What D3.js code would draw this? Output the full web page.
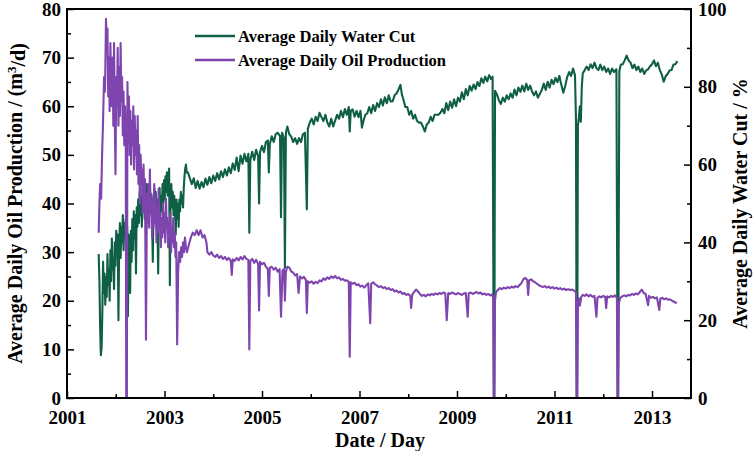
<!DOCTYPE html>
<html><head><meta charset="utf-8">
<script src="https://cdn.jsdelivr.net/npm/d3@7"></script>
<style>
html,body{margin:0;padding:0;background:#fff;}
svg text{font-family:"Liberation Serif","Times New Roman",serif;font-weight:bold;fill:#000;}
</style></head>
<body><svg id="c" width="754" height="451"></svg>
<script>
// ---- data (decimal year, value) ----
const yearTicks = [2001, 2003, 2005, 2007, 2009, 2011, 2013];
const oilTicks = [0, 10, 20, 30, 40, 50, 60, 70, 80];
const waterTicks = [0, 20, 40, 60, 80, 100];
const seriesNames = ["Average Daily Water Cut", "Average Daily Oil Production"];

// Average daily water cut, %  (right axis)
const waterEarly = [
[2001.650,37],[2001.665,30],[2001.680,18],[2001.695,11],[2001.710,13],[2001.725,22],[2001.740,35],[2001.755,27],[2001.770,32],[2001.785,24],
[2001.800,31],[2001.815,26],[2001.830,37],[2001.845,29],[2001.860,33],[2001.875,25],[2001.890,38],[2001.905,30],[2001.920,41],[2001.935,33],
[2001.950,36],[2001.965,28],[2001.980,40],[2001.995,34],[2002.010,43],[2002.025,37],[2002.040,42],[2002.055,20],[2002.070,39],[2002.085,45],
[2002.100,36],[2002.115,44],[2002.130,40],[2002.145,47],[2002.160,38],[2002.175,45],[2002.190,42],[2002.205,46],[2002.220,39],[2002.235,44],
[2002.250,21],[2002.265,42],[2002.280,36],[2002.295,27],[2002.310,43],[2002.325,35],[2002.340,46],[2002.355,38],[2002.370,48],[2002.385,41],
[2002.400,47],[2002.415,32],[2002.430,49],[2002.445,44],[2002.460,51],[2002.475,45],[2002.490,53],[2002.505,47],[2002.520,52],[2002.535,44],
[2002.550,54],[2002.565,48],[2002.580,53],[2002.595,46],[2002.610,52],[2002.625,45],[2002.640,55],[2002.655,49],[2002.670,53],[2002.685,47],
[2002.700,55],[2002.715,48],[2002.730,52],[2002.745,46],[2002.760,35],[2002.775,50],[2002.790,54],[2002.805,47],[2002.820,53],[2002.835,45],
[2002.850,51],[2002.870,32],[2002.885,49],[2002.900,54],[2002.915,47],[2002.930,52],[2002.945,48],[2002.960,55],[2002.975,50],[2002.990,56],
[2003.005,51],[2003.020,57],[2003.035,53],[2003.050,58],[2003.065,52],[2003.080,56],[2003.095,59],[2003.110,29],[2003.125,51],[2003.140,55],
[2003.155,49],[2003.170,53],[2003.185,47],[2003.200,52],[2003.215,48],[2003.230,42],[2003.245,51],[2003.260,46],[2003.275,50],[2003.290,44],
[2003.305,51],[2003.320,48],[2003.335,53],[2003.350,50],[2003.365,52],[2003.380,49],[2003.395,54],[2003.410,57],[2003.425,59],[2003.440,60],
[2003.455,58]
];
const waterMid = [
[2003.48,58],[2003.52,56.5],[2003.56,55],[2003.60,56.5],[2003.64,54],[2003.68,55.8],[2003.72,53.8],[2003.76,55.5],[2003.80,54.2],[2003.84,56.4],
[2003.88,54.8],[2003.92,56.8],[2003.96,55.2],[2004.00,57.2],[2004.04,55.8],[2004.08,57.8],[2004.12,56.2],[2004.16,58.3],[2004.20,56.8],[2004.24,58.8],
[2004.28,57.2],[2004.32,59.3],[2004.36,57.8],[2004.40,60.3],[2004.44,58.6],[2004.48,61.8],[2004.52,58.3],[2004.56,62.3],[2004.60,60.2],[2004.64,62.8],
[2004.68,60.8],[2004.72,62.8],[2004.74,42.5],[2004.76,61.2],[2004.80,63.3],[2004.84,61.2],[2004.88,63.8],[2004.92,62.2],[2004.94,50],[2004.96,63.2],
[2005.00,64.8],[2005.04,63.2],[2005.08,65.8],[2005.12,66.2],[2005.14,58],[2005.16,65.2],[2005.20,67.3],[2005.24,65.8],[2005.28,67.8],[2005.32,68.2],
[2005.37,67.3],[2005.39,46.5],[2005.41,68.2],[2005.45,66.8],[2005.47,33.5],[2005.49,68.2],[2005.52,69.8],[2005.56,67.8],[2005.60,67.2],[2005.64,65.8],
[2005.68,66.8],[2005.72,65.3],[2005.76,66.8],[2005.80,65.8],[2005.84,67.8],[2005.88,68.2],[2005.92,48.5],[2005.94,69.2],[2005.98,70.8],[2006.02,71.8],
[2006.06,70.3],[2006.10,72.3],[2006.14,71.2],[2006.18,73.3],[2006.22,72.2],[2006.26,71.2],[2006.30,72.8],[2006.34,70.8],[2006.38,69.8],[2006.42,71.8],
[2006.46,69.8],[2006.50,71.3],[2006.54,72.8],[2006.58,71.8],[2006.62,73.8],[2006.66,72.2],[2006.70,74.3],[2006.74,72.8],[2006.78,74.8],[2006.80,68.5],
[2006.82,73.8],[2006.86,74.2],[2006.90,72.3],[2006.94,73.8],[2006.98,72.2],[2007.02,73.8],[2007.05,69.5],[2007.08,71.2],[2007.12,72.8],[2007.16,73.2],
[2007.20,74.8],[2007.24,73.2],[2007.28,75.3],[2007.32,73.8],[2007.36,75.8],[2007.40,74.8],[2007.44,76.8],[2007.48,75.2],[2007.52,77.3],[2007.56,75.8],
[2007.60,77.8],[2007.64,76.2],[2007.68,76.3],[2007.72,77.8],[2007.76,78.3],[2007.80,79.3],[2007.84,80.5],[2007.87,78],[2007.90,76.8],[2007.94,74.8],
[2007.98,74.8],[2008.02,72.8],[2008.06,73.8],[2008.10,71.8],[2008.14,72.8],[2008.18,71.2],[2008.22,70.8],[2008.26,70.8],[2008.30,69.8],[2008.34,68.5],
[2008.38,70.3],[2008.42,70.8],[2008.46,72.3],[2008.50,71.2],[2008.54,72.8],[2008.58,72.8],[2008.62,72.8],[2008.66,73.3],[2008.70,74.3],[2008.74,73.2]
];
const waterLate = [
[2008.78,75.8],[2008.82,74],[2008.86,76.2],[2008.90,74.6],[2008.94,76.8],[2008.98,75],[2009.02,77.2],[2009.06,76.2],[2009.10,78.6],[2009.14,76.8],
[2009.18,79.4],[2009.22,77.8],[2009.26,80.2],[2009.30,79],[2009.34,80.6],[2009.38,79.4],[2009.42,81.2],[2009.46,80.2],[2009.50,82.2],[2009.54,81],
[2009.58,82.6],[2009.62,81.4],[2009.66,83],[2009.70,82],[2009.73,82.6],[2009.755,0],[2009.765,0],[2009.78,79],[2009.82,78],[2009.86,76.5],
[2009.90,75.6],[2009.94,77.2],[2009.98,76.2],[2010.02,77.8],[2010.06,76.8],[2010.10,78.3],[2010.14,77.2],[2010.18,79.3],[2010.22,77.8],[2010.26,79.8],
[2010.30,78.7],[2010.34,80.3],[2010.38,78.8],[2010.42,80.8],[2010.46,79.2],[2010.50,80.3],[2010.54,78.8],[2010.58,77.8],[2010.62,78.8],[2010.66,77.2],
[2010.70,78.2],[2010.74,79.2],[2010.78,80.8],[2010.82,79.2],[2010.86,81.3],[2010.90,79.8],[2010.94,81.8],[2010.98,80.7],[2011.02,82.3],[2011.06,81.2],
[2011.10,82.8],[2011.14,80.5],[2011.18,78.5],[2011.22,80.2],[2011.26,82.5],[2011.30,83.8],[2011.34,82.8],[2011.38,84.7],[2011.42,83],[2011.44,72],
[2011.455,0],[2011.465,0],[2011.48,70],[2011.50,72],[2011.52,75],[2011.54,71],[2011.56,80],[2011.58,83.5],[2011.62,84.3],[2011.66,85.2],
[2011.70,84.3],[2011.74,85.8],[2011.78,84.8],[2011.82,86.2],[2011.86,84.8],[2011.90,84.3],[2011.94,85.7],[2011.98,84.3],[2012.02,85.2],[2012.06,83.8],
[2012.10,84.7],[2012.14,83.3],[2012.18,84.7],[2012.22,83.8],[2012.27,84.5],[2012.295,0],[2012.305,0],[2012.33,84],[2012.36,85.7],[2012.40,85.8],
[2012.44,86.8],[2012.48,88],[2012.52,86.8],[2012.56,86.2],[2012.60,84.8],[2012.64,85.7],[2012.68,84.3],[2012.72,85.2],[2012.76,83.8],[2012.80,84.7],
[2012.84,83.3],[2012.88,84.2],[2012.92,84.5],[2012.96,85.3],[2013.00,85.8],[2013.04,86.8],[2013.08,85.3],[2013.12,86.2],[2013.16,84.3],[2013.20,83.2],
[2013.24,81.3],[2013.28,82.7],[2013.32,83.3],[2013.36,84.2],[2013.40,84.3],[2013.44,85.7],[2013.48,85.8],[2013.52,86.6]
];

// Average daily oil production, m3/d (left axis)
const oilEarly = [
[2001.650,34],[2001.665,40],[2001.680,44],[2001.700,41],[2001.720,50],[2001.740,57],[2001.760,66],[2001.780,63],[2001.800,78],[2001.815,72],
[2001.830,76],[2001.845,62],[2001.860,70],[2001.875,59],[2001.890,73],[2001.905,64],[2001.920,60],[2001.935,70],[2001.950,56],[2001.965,73],
[2001.980,58],[2001.995,46],[2002.010,66],[2002.025,60],[2002.040,72],[2002.055,56],[2002.070,68],[2002.085,58],[2002.100,73],[2002.115,61],
[2002.130,66],[2002.145,54],[2002.160,63],[2002.175,52],[2002.190,60],[2002.205,55],[2002.215,0],[2002.228,0],[2002.240,65],[2002.255,56],
[2002.270,62],[2002.285,50],[2002.300,59],[2002.315,48],[2002.330,57],[2002.345,52],[2002.360,60],[2002.375,47],[2002.390,58],[2002.405,50],
[2002.420,55],[2002.435,46],[2002.450,58],[2002.465,44],[2002.480,52],[2002.495,40],[2002.510,50],[2002.525,45],[2002.540,47],[2002.555,38],
[2002.570,48],[2002.585,41],[2002.600,45],[2002.620,12],[2002.640,42],[2002.655,36],[2002.670,44],[2002.685,35],[2002.700,47],[2002.715,38],
[2002.730,42],[2002.745,33],[2002.760,40],[2002.775,35],[2002.790,44],[2002.805,36],[2002.820,41],[2002.835,32],[2002.850,39],[2002.865,34],
[2002.880,43],[2002.895,35],[2002.910,38],[2002.925,31],[2002.940,37],[2002.955,33],[2002.970,40],[2002.985,34],[2003.000,38],[2003.015,32],
[2003.030,41],[2003.045,35],[2003.060,37],[2003.075,31],[2003.090,36],[2003.105,33],[2003.120,38],[2003.135,30],[2003.150,35],[2003.165,32],
[2003.180,37],[2003.195,31],[2003.210,34],[2003.225,29],[2003.240,32],[2003.260,11],[2003.280,26],[2003.300,30],[2003.320,28],[2003.340,31],
[2003.360,29],[2003.380,32],[2003.400,30],[2003.420,33],[2003.440,31]
];
const oilMid = [
[2003.46,30],[2003.50,31.5],[2003.54,33],[2003.58,34],[2003.62,33.5],[2003.66,34.5],[2003.70,33.5],[2003.74,34.5],[2003.78,33],[2003.82,33.5],
[2003.86,32],[2003.88,30],[2003.92,29.5],[2003.96,30],[2004.00,29.3],[2004.04,29],[2004.08,29.5],[2004.12,28.8],[2004.16,29.2],[2004.20,28.6],
[2004.24,29],[2004.28,28.4],[2004.32,28.8],[2004.36,28.2],[2004.38,25.3],[2004.40,28.5],[2004.44,28.2],[2004.48,28.8],[2004.52,28.3],[2004.56,29],
[2004.60,28.5],[2004.64,29.2],[2004.68,28.6],[2004.72,28.4],[2004.74,10],[2004.76,28.2],[2004.80,28.6],[2004.84,27.8],[2004.88,28.4],[2004.92,27.6],
[2004.94,18],[2004.96,28],[2005.00,27.5],[2005.04,27.8],[2005.08,27],[2005.12,26.5],[2005.14,21],[2005.16,26.8],[2005.20,27],[2005.24,26.4],
[2005.28,26.8],[2005.32,26],[2005.36,26.5],[2005.39,16.7],[2005.42,26.2],[2005.45,26.5],[2005.47,20],[2005.49,26],[2005.52,27],[2005.56,26.8],
[2005.60,26],[2005.64,25.8],[2005.68,25.2],[2005.72,25.5],[2005.75,21.6],[2005.78,25],[2005.82,24.6],[2005.86,24.9],[2005.90,24.3],[2005.92,17.5],
[2005.94,24],[2005.98,23.7],[2006.02,24],[2006.06,23.5],[2006.10,23.9],[2006.14,23.6],[2006.18,24.2],[2006.22,24],[2006.26,24.6],[2006.30,24.3],
[2006.34,24.8],[2006.38,24.5],[2006.42,25],[2006.46,24.7],[2006.50,25.1],[2006.54,24.6],[2006.58,24.8],[2006.62,24.3],[2006.66,24.5],[2006.70,24.1],
[2006.74,24.2],[2006.78,23.9],[2006.80,8.5],[2006.82,23.8],[2006.86,23.5],[2006.90,23.7],[2006.94,23.2],[2006.98,23.4],[2007.02,22.9],[2007.06,23.1],
[2007.10,22.7],[2007.14,23.2],[2007.18,23.6],[2007.22,15.4],[2007.24,23.5],[2007.28,23.8],[2007.32,23.4],[2007.36,23.1],[2007.40,22.8],[2007.44,23],
[2007.48,22.6],[2007.52,22.8],[2007.56,22.4],[2007.60,22.6],[2007.64,22.2],[2007.68,22.4],[2007.72,21.9],[2007.76,22.1],[2007.80,21.7],[2007.84,21.9],
[2007.88,21.4],[2007.92,21.6],[2007.96,21.2],[2008.00,21.4],[2008.04,21],[2008.06,18.5],[2008.08,21.2],[2008.12,21.8],[2008.16,22.3],[2008.20,21.9]
];
const oilLate = [
[2008.24,21.4],[2008.28,21],[2008.32,21.2],[2008.36,20.9],[2008.40,21.3],[2008.44,21.1],[2008.48,21.4],[2008.52,21.2],[2008.56,21.5],[2008.60,21.3],
[2008.64,21.6],[2008.68,21.4],[2008.72,21.7],[2008.76,21.5],[2008.79,16],[2008.82,21.6],[2008.86,21.4],[2008.90,21.7],[2008.94,21.5],[2008.98,21.3],
[2009.02,21.6],[2009.06,21.4],[2009.10,21.2],[2009.14,21.5],[2009.18,21.6],[2009.22,16.7],[2009.24,21.5],[2009.28,21.7],[2009.32,21.4],[2009.36,21.6],
[2009.40,21.8],[2009.44,21.5],[2009.48,21.7],[2009.52,21.3],[2009.56,21.5],[2009.60,21.2],[2009.64,21.4],[2009.68,21.1],[2009.72,21.3],[2009.745,20.5],
[2009.755,0],[2009.765,0],[2009.78,20],[2009.80,21.8],[2009.84,22.2],[2009.88,22.6],[2009.92,22.4],[2009.96,22.7],[2010.00,22.5],[2010.04,22.8],
[2010.08,22.6],[2010.12,22.9],[2010.16,22.7],[2010.20,23],[2010.24,22.8],[2010.28,23.2],[2010.32,23.6],[2010.36,24.4],[2010.40,24.7],[2010.44,24.3],
[2010.46,21.2],[2010.48,24.2],[2010.52,24.4],[2010.56,24],[2010.60,23.8],[2010.64,23.5],[2010.68,23.2],[2010.72,23],[2010.76,22.8],[2010.80,23],
[2010.84,22.7],[2010.88,22.9],[2010.92,22.6],[2010.96,22.8],[2011.00,22.5],[2011.04,22.7],[2011.08,22.4],[2011.12,22.6],[2011.16,22.3],[2011.20,22.5],
[2011.24,22.2],[2011.28,22.4],[2011.32,22.2],[2011.36,22.3],[2011.40,22.1],[2011.44,21.8],[2011.455,0],[2011.465,0],[2011.48,19.5],[2011.50,20.5],
[2011.52,19],[2011.55,20.8],[2011.58,21.2],[2011.62,21],[2011.66,21.3],[2011.70,20.9],[2011.74,21.2],[2011.78,20.8],[2011.82,21],[2011.86,16.7],
[2011.88,20.6],[2011.92,20.9],[2011.96,20.7],[2012.00,21],[2012.04,20.8],[2012.06,18.5],[2012.08,20.9],[2012.12,20.7],[2012.16,21],[2012.20,20.8],
[2012.24,21.1],[2012.28,20.6],[2012.295,0],[2012.305,0],[2012.32,19.5],[2012.35,20.6],[2012.39,20.9],[2012.43,21.1],[2012.47,20.9],[2012.51,21.2],
[2012.55,21.1],[2012.59,21.4],[2012.63,21.2],[2012.67,21.5],[2012.71,21.3],[2012.75,21.8],[2012.79,22.3],[2012.83,21.6],[2012.87,21.4],[2012.92,19.1],
[2012.94,21],[2012.98,20.6],[2013.02,20.8],[2013.06,20.5],[2013.10,20.7],[2013.15,18.1],[2013.17,20.4],[2013.21,20.6],[2013.25,20.3],[2013.29,20.5],
[2013.33,20.2],[2013.37,20.3],[2013.41,20],[2013.45,19.8],[2013.49,19.6],[2013.51,19.5]
];

const waterCut = waterEarly.concat(waterMid, waterLate);
const oilRate = oilEarly.concat(oilMid, oilLate);

// ---- drawing ----
const m = {left: 67, right: 691, top: 9, bottom: 398};
const colWater = "#0f5f47", colOil = "#7e45ae";
const svg = d3.select("#c");

const x = d3.scaleLinear().domain([2001, 2013.8]).range([m.left, m.right]);
const yOil = d3.scaleLinear().domain([0, 80]).range([m.bottom, m.top]);
const yWater = d3.scaleLinear().domain([0, 100]).range([m.bottom, m.top]);

svg.append("defs").append("clipPath").attr("id", "pc")
  .append("rect").attr("x", m.left).attr("y", m.top)
  .attr("width", m.right - m.left).attr("height", m.bottom - m.top);

const plot = svg.append("g").attr("clip-path", "url(#pc)");
const lineW = d3.line().x(d => x(d[0])).y(d => yWater(d[1]));
const lineO = d3.line().x(d => x(d[0])).y(d => yOil(d[1]));
plot.append("path").datum(waterCut).attr("d", lineW)
  .attr("fill", "none").attr("stroke", colWater).attr("stroke-width", 2.1).attr("stroke-linejoin", "round");
plot.append("path").datum(oilRate).attr("d", lineO)
  .attr("fill", "none").attr("stroke", colOil).attr("stroke-width", 2.1).attr("stroke-linejoin", "round");

// axes (ticks inward)
const fs = 19;
function styleAxis(g) {
  g.select(".domain").remove();
  g.selectAll("line").attr("stroke", "#000").attr("stroke-width", 1.5);
  g.selectAll("text").style("font-size", fs + "px");
}
const xMinor = d3.range(2002, 2014, 2);
svg.append("g").attr("transform", `translate(0,${m.bottom})`)
  .call(d3.axisBottom(x).tickValues(yearTicks).tickFormat(d3.format("d")).tickSizeInner(-7).tickSizeOuter(0).tickPadding(13))
  .call(styleAxis);
svg.append("g").attr("transform", `translate(0,${m.bottom})`)
  .call(d3.axisBottom(x).tickValues(xMinor).tickFormat("").tickSizeInner(-4).tickSizeOuter(0))
  .call(styleAxis);
svg.append("g").attr("transform", `translate(${m.left},0)`)
  .call(d3.axisLeft(yOil).tickValues(oilTicks).tickSizeInner(-7).tickSizeOuter(0).tickPadding(6))
  .call(styleAxis);
svg.append("g").attr("transform", `translate(${m.left},0)`)
  .call(d3.axisLeft(yOil).tickValues(d3.range(5, 80, 10)).tickFormat("").tickSizeInner(-4).tickSizeOuter(0))
  .call(styleAxis);
svg.append("g").attr("transform", `translate(${m.right},0)`)
  .call(d3.axisRight(yWater).tickValues(waterTicks).tickSizeInner(-7).tickSizeOuter(0).tickPadding(7))
  .call(styleAxis);
svg.append("g").attr("transform", `translate(${m.right},0)`)
  .call(d3.axisRight(yWater).tickValues(d3.range(10, 100, 20)).tickFormat("").tickSizeInner(-4).tickSizeOuter(0))
  .call(styleAxis);

// frame
svg.append("rect").attr("x", m.left).attr("y", m.top)
  .attr("width", m.right - m.left).attr("height", m.bottom - m.top)
  .attr("fill", "none").attr("stroke", "#000").attr("stroke-width", 2);

// titles
svg.append("text").attr("x", 380).attr("y", 447)
  .attr("text-anchor", "middle").style("font-size", "20px").text("Date / Day");
const lt = svg.append("text").attr("transform", `translate(22,${(m.top + m.bottom) / 2}) rotate(-90)`)
  .attr("text-anchor", "middle").style("font-size", "20px");
lt.append("tspan").text("Average Daily Oil Production / (m");
lt.append("tspan").attr("dy", "-0.45em").style("font-size", "13px").text("3");
lt.append("tspan").attr("dy", "0.45em").text("/d)");
svg.append("text").attr("transform", `translate(747,${(m.top + m.bottom) / 2}) rotate(-90)`)
  .attr("text-anchor", "middle").style("font-size", "20px").text("Average Daily Water Cut / %");

// legend
const leg = svg.append("g");
const legY = [36, 60];
const legC = [colWater, colOil];
seriesNames.forEach((name, i) => {
  leg.append("line").attr("x1", 195).attr("x2", 235).attr("y1", legY[i]).attr("y2", legY[i])
    .attr("stroke", legC[i]).attr("stroke-width", 2.5);
  leg.append("text").attr("x", 238).attr("y", legY[i]).attr("dy", "0.35em")
    .style("font-size", "16.5px").text(name);
});
</script></body></html>
